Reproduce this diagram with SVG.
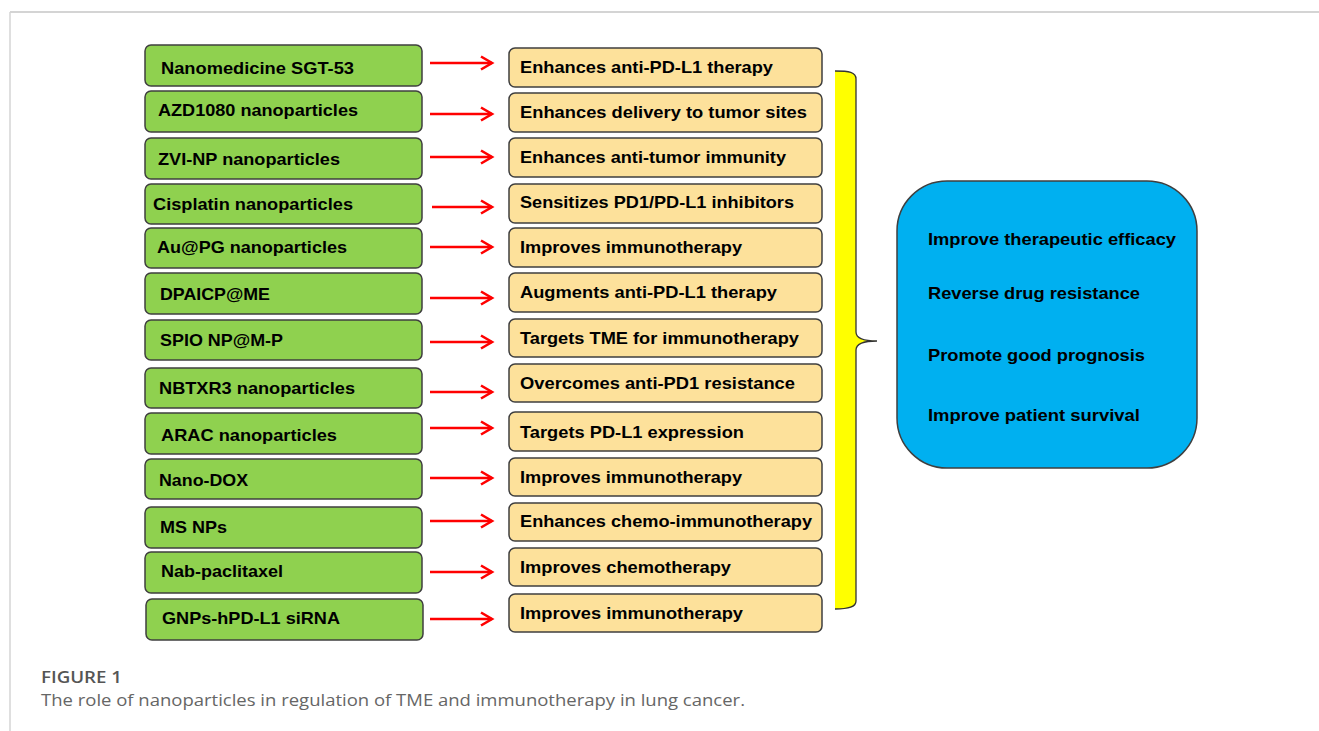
<svg xmlns="http://www.w3.org/2000/svg" width="1319" height="731" viewBox="0 0 1319 731">
<defs>
<style>
.g{fill:#8FD14F;stroke:#3f3f3f;stroke-width:1.5}
.y{fill:#FDE19B;stroke:#3f3f3f;stroke-width:1.5}
.t{font-family:"Liberation Sans",Arial,sans-serif;font-weight:bold;font-size:17.3px;fill:#000}
.a{stroke:#FF0000;stroke-width:2.6;fill:none}
.cap{font-family:"Open Sans","Liberation Sans",sans-serif;font-size:17px}
</style>
<marker id="ah" markerWidth="15" markerHeight="16" refX="12" refY="8" orient="auto" markerUnits="userSpaceOnUse">
<path d="M1,1.5 L12,8 L1,14.5" fill="none" stroke="#FF0000" stroke-width="2.6"/>
</marker>
</defs>
<rect width="1319" height="731" fill="#fff"/>
<line x1="10" y1="12" x2="1319" y2="12" stroke="#d4d4d4" stroke-width="2"/>
<line x1="10" y1="12" x2="10" y2="731" stroke="#d4d4d4" stroke-width="1.5"/>

<g id="left-nodes">
<g id="n1"><rect class="g" x="145" y="45" width="277" height="41" rx="6"/><text class="t" x="161" y="74" textLength="193" lengthAdjust="spacingAndGlyphs">Nanomedicine  SGT-53</text></g>
<g id="n2"><rect class="g" x="145" y="91" width="277" height="41" rx="6"/><text class="t" x="158" y="116" textLength="200" lengthAdjust="spacingAndGlyphs">AZD1080 nanoparticles</text></g>
<g id="n3"><rect class="g" x="145" y="138" width="277" height="41" rx="6"/><text class="t" x="158" y="165" textLength="182" lengthAdjust="spacingAndGlyphs">ZVI-NP  nanoparticles</text></g>
<g id="n4"><rect class="g" x="145" y="184" width="277" height="40" rx="6"/><text class="t" x="153" y="210" textLength="200" lengthAdjust="spacingAndGlyphs">Cisplatin  nanoparticles</text></g>
<g id="n5"><rect class="g" x="145" y="228" width="277" height="40" rx="6"/><text class="t" x="157" y="253" textLength="190" lengthAdjust="spacingAndGlyphs">Au@PG nanoparticles</text></g>
<g id="n6"><rect class="g" x="145" y="273" width="277" height="41" rx="6"/><text class="t" x="160" y="300" textLength="110" lengthAdjust="spacingAndGlyphs">DPAICP@ME</text></g>
<g id="n7"><rect class="g" x="145" y="320" width="277" height="40" rx="6"/><text class="t" x="160" y="346" textLength="123" lengthAdjust="spacingAndGlyphs">SPIO NP@M-P</text></g>
<g id="n8"><rect class="g" x="145" y="368" width="277" height="40" rx="6"/><text class="t" x="159" y="394" textLength="196" lengthAdjust="spacingAndGlyphs">NBTXR3 nanoparticles</text></g>
<g id="n9"><rect class="g" x="145" y="413" width="277" height="41" rx="6"/><text class="t" x="161" y="441" textLength="176" lengthAdjust="spacingAndGlyphs">ARAC nanoparticles</text></g>
<g id="n10"><rect class="g" x="145" y="459" width="277" height="40" rx="6"/><text class="t" x="159" y="486" textLength="89" lengthAdjust="spacingAndGlyphs">Nano-DOX</text></g>
<g id="n11"><rect class="g" x="145" y="507" width="277" height="41" rx="6"/><text class="t" x="160" y="533" textLength="67" lengthAdjust="spacingAndGlyphs">MS NPs</text></g>
<g id="n12"><rect class="g" x="145" y="552" width="277" height="41" rx="6"/><text class="t" x="161" y="577" textLength="122" lengthAdjust="spacingAndGlyphs">Nab-paclitaxel</text></g>
<g id="n13"><rect class="g" x="146" y="599" width="277" height="41" rx="6"/><text class="t" x="162" y="624" textLength="178" lengthAdjust="spacingAndGlyphs">GNPs-hPD-L1  siRNA</text></g>
</g>

<g id="right-nodes">
<g id="r1"><rect class="y" x="509" y="48" width="313" height="39" rx="6"/><text class="t" x="520" y="73" textLength="253" lengthAdjust="spacingAndGlyphs">Enhances anti-PD-L1 therapy</text></g>
<g id="r2"><rect class="y" x="509" y="93" width="313" height="39" rx="6"/><text class="t" x="520" y="118" textLength="287" lengthAdjust="spacingAndGlyphs">Enhances delivery to tumor sites</text></g>
<g id="r3"><rect class="y" x="509" y="138" width="313" height="39" rx="6"/><text class="t" x="520" y="163" textLength="266" lengthAdjust="spacingAndGlyphs">Enhances anti-tumor immunity</text></g>
<g id="r4"><rect class="y" x="509" y="184" width="313" height="39" rx="6"/><text class="t" x="520" y="208" textLength="274" lengthAdjust="spacingAndGlyphs">Sensitizes PD1/PD-L1 inhibitors</text></g>
<g id="r5"><rect class="y" x="509" y="228" width="313" height="39" rx="6"/><text class="t" x="520" y="253" textLength="222" lengthAdjust="spacingAndGlyphs">Improves immunotherapy</text></g>
<g id="r6"><rect class="y" x="509" y="273" width="313" height="39" rx="6"/><text class="t" x="520" y="298" textLength="257" lengthAdjust="spacingAndGlyphs">Augments anti-PD-L1 therapy</text></g>
<g id="r7"><rect class="y" x="509" y="319" width="313" height="38" rx="6"/><text class="t" x="520" y="344" textLength="279" lengthAdjust="spacingAndGlyphs">Targets TME for immunotherapy</text></g>
<g id="r8"><rect class="y" x="509" y="364" width="313" height="38" rx="6"/><text class="t" x="520" y="389" textLength="275" lengthAdjust="spacingAndGlyphs">Overcomes anti-PD1 resistance</text></g>
<g id="r9"><rect class="y" x="509" y="412" width="313" height="39" rx="6"/><text class="t" x="520" y="438" textLength="224" lengthAdjust="spacingAndGlyphs">Targets PD-L1 expression</text></g>
<g id="r10"><rect class="y" x="509" y="458" width="313" height="38" rx="6"/><text class="t" x="520" y="483" textLength="222" lengthAdjust="spacingAndGlyphs">Improves immunotherapy</text></g>
<g id="r11"><rect class="y" x="509" y="503" width="313" height="38" rx="6"/><text class="t" x="520" y="527" textLength="292" lengthAdjust="spacingAndGlyphs">Enhances chemo-immunotherapy</text></g>
<g id="r12"><rect class="y" x="509" y="548" width="313" height="38" rx="6"/><text class="t" x="520" y="573" textLength="211" lengthAdjust="spacingAndGlyphs">Improves chemotherapy</text></g>
<g id="r13"><rect class="y" x="509" y="594" width="313" height="38" rx="6"/><text class="t" x="520" y="619" textLength="223" lengthAdjust="spacingAndGlyphs">Improves immunotherapy</text></g>
</g>

<g id="brace">
<path d="M835,71 C849,71 856,72 856,79 L856,332 C856,338 862,341 877,341 C862,341 856,344 856,350 L856,601 C856,607 849,609 835,609 Z" fill="#FFFF00"/>
<path d="M835,71 C849,71 856,72 856,79 L856,332 C856,338 862,341 877,341 C862,341 856,344 856,350 L856,601 C856,607 849,609 835,609" fill="none" stroke="#333" stroke-width="1.3"/>
</g>

<g id="outcomes">
<rect x="897" y="181" width="300" height="287" rx="50" fill="#00B0F0" stroke="#3f3f3f" stroke-width="1.5"/>
<text class="t" x="928" y="245" textLength="248" lengthAdjust="spacingAndGlyphs">Improve therapeutic efficacy</text>
<text class="t" x="928" y="299" textLength="212" lengthAdjust="spacingAndGlyphs">Reverse drug resistance</text>
<text class="t" x="928" y="361" textLength="217" lengthAdjust="spacingAndGlyphs">Promote good prognosis</text>
<text class="t" x="928" y="421" textLength="212" lengthAdjust="spacingAndGlyphs">Improve patient survival</text>
</g>

<g id="connectors">
<line class="a" x1="430" y1="63" x2="492" y2="63" marker-end="url(#ah)"/>
<line class="a" x1="430" y1="114" x2="492" y2="114" marker-end="url(#ah)"/>
<line class="a" x1="430" y1="157" x2="492" y2="157" marker-end="url(#ah)"/>
<line class="a" x1="432" y1="207" x2="492" y2="207" marker-end="url(#ah)"/>
<line class="a" x1="430" y1="247" x2="492" y2="247" marker-end="url(#ah)"/>
<line class="a" x1="430" y1="298" x2="492" y2="298" marker-end="url(#ah)"/>
<line class="a" x1="430" y1="342" x2="492" y2="342" marker-end="url(#ah)"/>
<line class="a" x1="430" y1="392" x2="492" y2="392" marker-end="url(#ah)"/>
<line class="a" x1="430" y1="428" x2="492" y2="428" marker-end="url(#ah)"/>
<line class="a" x1="430" y1="478" x2="492" y2="478" marker-end="url(#ah)"/>
<line class="a" x1="430" y1="521" x2="492" y2="521" marker-end="url(#ah)"/>
<line class="a" x1="430" y1="572" x2="492" y2="572" marker-end="url(#ah)"/>
<line class="a" x1="430" y1="619" x2="492" y2="619" marker-end="url(#ah)"/>
</g>

<g id="caption">
<text class="cap" x="41" y="683" fill="#555" font-weight="600" textLength="81" lengthAdjust="spacingAndGlyphs">FIGURE 1</text>
<text class="cap" x="41" y="706" fill="#666" textLength="704" lengthAdjust="spacingAndGlyphs">The role of nanoparticles in regulation of TME and immunotherapy in lung cancer.</text>
</g>
</svg>
